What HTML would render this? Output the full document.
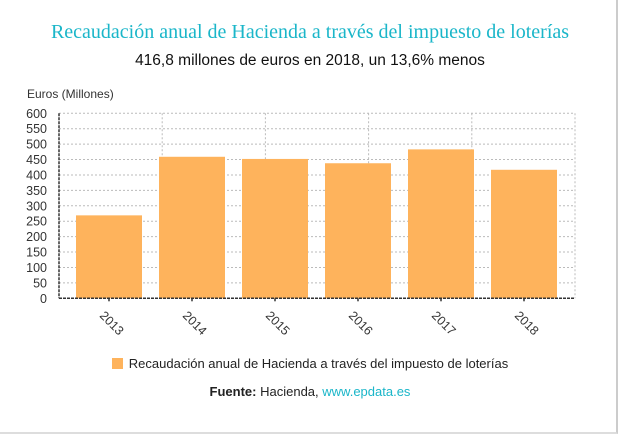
<!DOCTYPE html>
<html><head><meta charset="utf-8"><style>
body{margin:0;width:620px;height:434px;background:#fff;font-family:"Liberation Sans",sans-serif;overflow:hidden;position:relative}
.frame{position:absolute;left:0;top:0;width:616px;height:432px;border-right:2px solid #ccc;border-bottom:2px solid #ddd}
.t{position:absolute;left:0;width:620px;text-align:center}
</style></head><body>
<div class="frame"></div>
<div class="t" style="top:21px;font-family:'Liberation Serif',serif;font-size:20px;color:#1ab6c9">Recaudación anual de Hacienda a través del impuesto de loterías</div>
<div class="t" style="top:52px;font-size:15.5px;color:#111">416,8 millones de euros en 2018, un 13,6% menos</div>
<svg id="c" width="620" height="434" style="position:absolute;left:0;top:0">
<text x="27" y="98" font-size="12" fill="#333">Euros (Millones)</text>
</svg>
<div class="t" style="top:356px;font-size:13px;color:#222"><span style="display:inline-block;width:11px;height:11px;background:#feb35c;vertical-align:-1px;margin-right:6px"></span>Recaudación anual de Hacienda a través del impuesto de loterías</div>
<div class="t" style="top:384px;font-size:13px;color:#222"><b>Fuente:</b> Hacienda, <span style="color:#1ab6c9">www.epdata.es</span></div>
<script>
const categories=["2013","2014","2015","2016","2017","2018"];
const values=[269,459,452,438,483,416.8];
const yTicks=[0,50,100,150,200,250,300,350,400,450,500,550,600];
const svg=document.getElementById('c');const NS='http://www.w3.org/2000/svg';
const x0=59,x1=575,yTop=113.3,yBot=298.3;
const y=v=>yBot-(v/600)*(yBot-yTop);
const xc=i=>109+i*83;
function mk(t,a){const e=document.createElementNS(NS,t);for(const k in a)e.setAttribute(k,a[k]);svg.appendChild(e);return e;}
yTicks.forEach(v=>{
 const l=mk('line',{x1:x0,x2:x1,y1:y(v),y2:y(v),stroke:'#bbb','stroke-dasharray':'2,2'});
 
 
 const t=mk('text',{x:47,y:y(v)+4.5,'text-anchor':'end','font-size':12.5,fill:'#333'});t.textContent=v;
 
 
});
for(let k=1;k<=5;k++){const gx=x0+k*(x1-x0)/5;const l=mk('line',{x1:gx,x2:gx,y1:yTop,y2:yBot,stroke:'#bbb','stroke-dasharray':'2,2'});
 
 }
categories.forEach((c,i)=>{
 const b=mk('rect',{x:xc(i)-33,y:y(values[i]),width:66,height:yBot-y(values[i]),fill:'#feb35c'});
 
 
 mk('line',{x1:xc(i),x2:xc(i),y1:yBot,y2:yBot+3,stroke:'#333','stroke-width':1.5});
 const t=mk('text',{x:xc(i)-10,y:yBot+18,'font-size':12.5,fill:'#333',transform:`rotate(45 ${xc(i)-10} ${yBot+18})`});t.textContent=c;
 
 
});
const ax=mk('line',{x1:x0,x2:x1,y1:yBot,y2:yBot,stroke:'#333','stroke-width':1.5,'stroke-dasharray':'3,1'});


const ay=mk('line',{x1:x0,x2:x0,y1:yTop,y2:yBot,stroke:'#333','stroke-width':1.5,'stroke-dasharray':'3,1'});


</script>
</body></html>
